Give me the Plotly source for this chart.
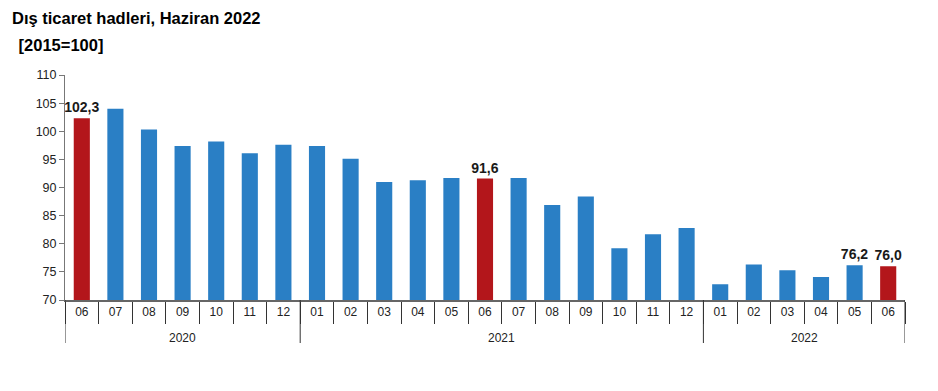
import plotly.graph_objects as go

years = ["2020"] * 7 + ["2021"] * 12 + ["2022"] * 6
months = ["06", "07", "08", "09", "10", "11", "12",
          "01", "02", "03", "04", "05", "06", "07", "08", "09", "10", "11", "12",
          "01", "02", "03", "04", "05", "06"]
values = [102.3, 104.0, 100.3, 97.4, 98.2, 96.1, 97.6,
          97.4, 95.1, 91.0, 91.3, 91.7, 91.6, 91.7, 86.9, 88.4, 79.2, 81.7, 82.8,
          72.8, 76.3, 75.3, 74.1, 76.2, 76.0]
highlight = [True] + [False] * 11 + [True] + [False] * 11 + [True]
labeled = [True] + [False] * 11 + [True] + [False] * 10 + [True, True]

BLUE = "#2a7fc5"
RED = "#b3161b"

cats = [f"{y}-{m}" for y, m in zip(years, months)]
colors = [RED if h else BLUE for h in highlight]
texts = [f"{v:.1f}".replace(".", ",") if l else "" for v, l in zip(values, labeled)]

fig = go.Figure(go.Bar(
    x=cats,
    y=values,
    marker=dict(color=colors, line=dict(width=0)),
    width=0.48,
    text=texts,
    textposition="outside",
    constraintext="none",
    cliponaxis=False,
    textfont=dict(family="Arial", size=14, color="#1a1a1a", weight="bold"),
))

# year groups: boundaries and centres derived from the category list
shapes = []
annotations = []
groups = []
for i, y in enumerate(years):
    if not groups or groups[-1][0] != y:
        groups.append([y, i, i])
    else:
        groups[-1][2] = i
bounds = sorted({g[1] - 0.5 for g in groups} | {g[2] + 0.5 for g in groups})
for b in bounds:
    shapes.append(dict(type="line", xref="x", yref="paper", x0=b, x1=b,
                       y0=0, y1=-43 / 225, line=dict(color="#333", width=1)))
for y, s, e in groups:
    annotations.append(dict(text=y, xref="x", yref="paper", x=(s + e) / 2, y=-38 / 225,
                            xanchor="center", yanchor="middle", showarrow=False,
                            font=dict(family="Arial", size=12, color="#222")))

annotations += [
    dict(text="<b>Dış ticaret hadleri, Haziran 2022</b>", xref="paper", yref="paper",
         x=-55 / 840, y=1 + 57 / 225, xanchor="left", yanchor="middle", showarrow=False,
         font=dict(family="Arial", size=16.5, color="#000")),
    dict(text="<b> [2015=100]</b>", xref="paper", yref="paper",
         x=-53 / 840, y=1 + 30 / 225, xanchor="left", yanchor="middle", showarrow=False,
         font=dict(family="Arial", size=16.5, color="#000")),
]

fig.update_layout(
    width=930, height=383,
    margin=dict(l=57, r=33, t=67, b=91, autoexpand=False),
    paper_bgcolor="white", plot_bgcolor="white",
    showlegend=False,
    font=dict(family="Arial", size=12, color="#222"),
    shapes=shapes,
    annotations=annotations,
)

fig.update_yaxes(
    range=[70, 110], dtick=5, showgrid=False, zeroline=False,
    showline=True, linecolor="#777", linewidth=1,
    ticks="outside", ticklen=5, tickcolor="#777",
    tickfont=dict(family="Arial", size=12.5, color="#222"),
    automargin=False,
)
fig.update_xaxes(
    type="category", showgrid=False,
    tickvals=cats, ticktext=months,
    range=[-0.5, len(cats) - 0.5],
    showline=True, linecolor="#666", linewidth=1.5,
    ticks="outside", ticklen=22, tickcolor="#333", tickson="boundaries",
    tickfont=dict(family="Arial", size=12, color="#222"),
    automargin=False,
)

fig.write_html("out.html")
